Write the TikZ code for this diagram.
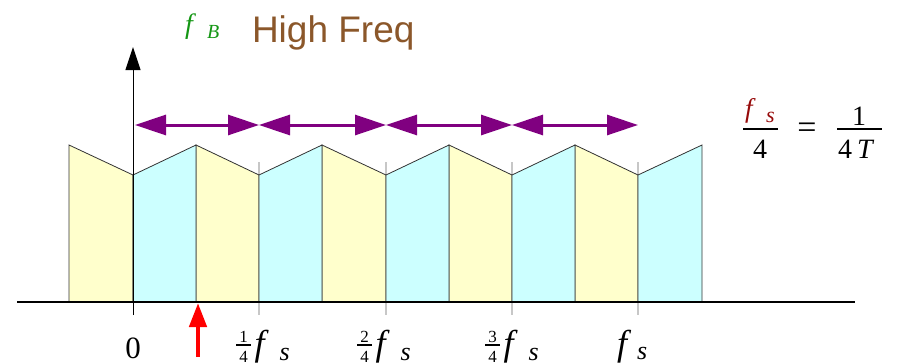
\documentclass[tikz,border=0pt]{standalone}
\usepackage{fontspec}
\setmainfont{Liberation Serif}
\newfontfamily\arialf{Liberation Sans}
\usetikzlibrary{arrows.meta}
\definecolor{pyel}{RGB}{255,255,204}
\definecolor{pcyan}{RGB}{204,255,255}
\definecolor{ppurple}{RGB}{128,0,128}
\definecolor{pgreen}{RGB}{20,150,20}
\definecolor{pbrown}{RGB}{139,87,42}
\definecolor{pdred}{RGB}{150,10,10}
\begin{document}
\begin{tikzpicture}[x=1pt,y=-1pt,
  panel/.style={draw=black!80,line width=0.8pt},
  gtick/.style={draw=black!22,line width=1.2pt},
  dbl/.style={ppurple,line width=3pt,{Triangle[length=31pt,width=20pt]}-{Triangle[length=31pt,width=20pt]}},
  txt/.style={inner sep=0pt,outer sep=0pt},
  dig/.style={txt,font=\fontsize{17}{17}\selectfont,anchor=base},
  fbig/.style={txt,font=\fontsize{36}{36}\selectfont\itshape,anchor=base west},
  fsm/.style={txt,font=\fontsize{26}{26}\selectfont\itshape,anchor=base west},
  rdig/.style={txt,font=\fontsize{28}{28}\selectfont}]
\useasboundingbox (0,0) rectangle (897,364);
% gray ticks
\foreach \x in {259,386,512,638} \draw[gtick] (\x,162) -- (\x,315);
% panels
\foreach \a/\b in {69/133,196/259,322/386,449/512,575/638}
  \draw[panel,fill=pyel] (\a,302) -- (\a,145) -- (\b,175) -- (\b,302) -- cycle;
\foreach \a/\b in {133/196,259/322,386/449,512/575,638/702}
  \draw[panel,fill=pcyan] (\a,302) -- (\a,175) -- (\b,145) -- (\b,302) -- cycle;
% axes
\coordinate (xl) at (17,302); \coordinate (xr) at (855,302);
\coordinate (yb) at (133,315); \coordinate (yt) at (133,47);
\draw[line width=1.2pt] (xl) -- (xr);
\draw[line width=1pt,-{Triangle[length=23pt,width=15pt]}] (yb) -- (yt);
% purple arrows
\coordinate (p0) at (135,125); \coordinate (p1) at (259,125);
\coordinate (p2) at (386,125); \coordinate (p3) at (512,125);
\coordinate (p4) at (638,125);
\draw[dbl] (p0) -- (p1);
\draw[dbl] (p1) -- (p2);
\draw[dbl] (p2) -- (p3);
\draw[dbl] (p3) -- (p4);
% red arrow
\coordinate (r0) at (198,357); \coordinate (r1) at (198,303);
\draw[red,line width=4.5pt,-{Triangle[length=24pt,width=17pt]}] (r0) -- (r1);
% tick labels
\node[txt,font=\fontsize{31}{31}\selectfont,anchor=base] (l0) at (133,358) {0};
\foreach \c/\n in {243.5/1,364.5/2,492.5/3}{
  \node[dig] (n\n) at (\c,342) {\n};
  \node[dig] (d\n) at (\c,362) {4};
  \draw[line width=2pt] (\c-7.5,345) -- (\c+7.5,345);
  \node[fbig] (f\n) at (\c+11,355) {f};
  \node[fsm] (s\n) at (\c+36,360) {s};
}
\node[fbig] (f4) at (617,355) {f};
\node[fsm] (s4) at (637,359) {s};
% f_B and title
\node[txt,font=\fontsize{28}{28}\selectfont\itshape,anchor=base west,text=pgreen] (fb) at (185,33) {f};
\node[txt,font=\fontsize{20}{20}\selectfont\itshape,anchor=base west,text=pgreen] (fbs) at (207,38) {B};
\node[txt,font=\arialf\fontsize{37}{37}\selectfont,text=pbrown,anchor=base west] (hf) at (252,42) {High Freq};
% right formula
\node[txt,font=\fontsize{27}{27}\selectfont\itshape,anchor=base west,text=pdred] (rf) at (745,117) {f};
\node[txt,font=\fontsize{22}{22}\selectfont\itshape,anchor=base west,text=pdred] (rs) at (766,122) {s};
\draw[line width=2pt] (743,129) -- (778,129);
\node[rdig,anchor=base] (r4) at (760,158) {4};
\node[txt,font=\fontsize{34}{34}\selectfont] (req) at (807,131) {=};
\draw[line width=2pt] (837,129) -- (882,129);
\node[rdig,anchor=base] (r1n) at (859,125) {1};
\node[rdig,anchor=base west] (r4d) at (838,158) {4};
\node[rdig,anchor=base west,font=\fontsize{28}{28}\selectfont\itshape] (rT) at (857,158) {T};
\end{tikzpicture}
\end{document}
